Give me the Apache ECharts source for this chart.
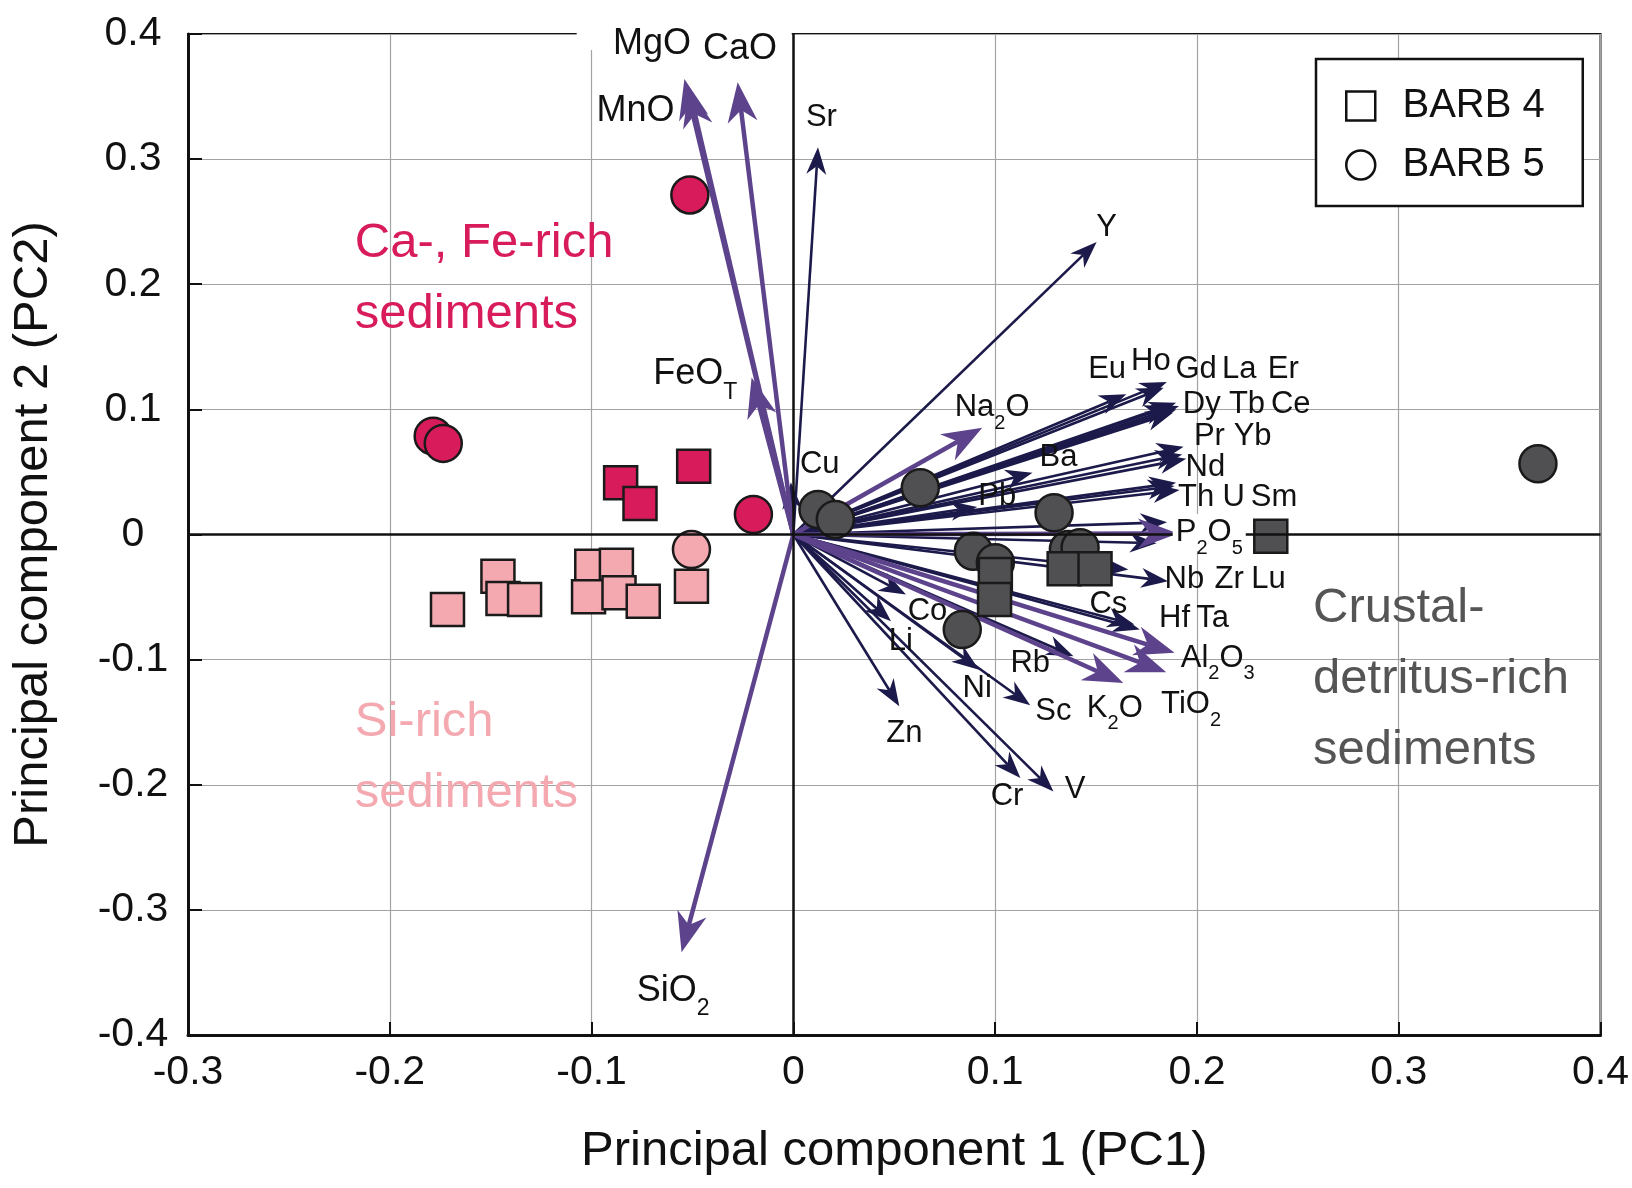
<!DOCTYPE html>
<html>
<head>
<meta charset="utf-8">
<script src="https://cdn.jsdelivr.net/npm/echarts@6/dist/echarts.min.js"></script>
<style>html,body{margin:0;padding:0;background:#fff}#chart{width:1632px;height:1188px}</style>
</head>
<body>
<div id="chart"></div>
<script>
// ---------- tick labels ----------
const xTickLabels = ['-0.3', '-0.2', '-0.1', '0', '0.1', '0.2', '0.3', '0.4'];
const yTickLabels = ['-0.4', '-0.3', '-0.2', '-0.1', '0', '0.1', '0.2', '0.3', '0.4'];

// ---------- loading vectors (arrow tips) ----------
const oxideNames = ['MgO', 'MnO', 'CaO', 'FeOT', 'SiO2', 'Na2O', 'P2O5', 'Al2O3', 'TiO2', 'K2O'];
const oxidePC1 = [-0.0540, -0.0519, -0.0276, -0.0207, -0.0554, 0.0936, 0.1906, 0.1889, 0.1848, 0.1635];
const oxidePC2 = [0.3640, 0.3576, 0.3614, 0.1254, -0.3338, 0.0854, 0.0008, -0.0946, -0.1100, -0.1187];

const traceNames = ['Sr', 'Y', 'Cu', 'Eu', 'Ho', 'Gd', 'La', 'Er', 'Dy', 'Tb', 'Ce', 'Pr', 'Yb', 'Nd',
  'Th', 'U', 'Sm', 'Ba', 'Pb', 'Nb', 'Zr', 'Lu', 'Hf', 'Ta', 'Cs', 'Rb', 'Sc', 'Ni', 'Co', 'Li', 'Zn', 'Cr', 'V'];
const tracePC1 = [0.0122, 0.1503, -0.0012, 0.1650, 0.1851, 0.1835, 0.1897, 0.1911, 0.1897, 0.1881, 0.1873, 0.1934, 0.1927, 0.1947,
  0.1897, 0.1889, 0.1914, 0.1185, 0.0911, 0.1857, 0.1852, 0.1800, 0.1660, 0.1717, 0.1690, 0.1388, 0.1174, 0.0920, 0.0558, 0.0484, 0.0525, 0.1125, 0.1289];
const tracePC2 = [0.3094, 0.2338, 0.0418, 0.1120, 0.1219, 0.1173, 0.1053, 0.1027, 0.1000, 0.0973, 0.1027, 0.0701, 0.0640, 0.0605,
  0.0413, 0.0387, 0.0355, 0.0494, 0.0220, -0.0373, 0.0098, -0.0070, -0.0280, -0.0760, -0.0720, -0.0973, -0.1365, -0.1080, -0.0480, -0.0693, -0.1373, -0.1947, -0.2053];

// ---------- sample scores ----------
const barb4CaFe = [[-0.0856, 0.0414], [-0.0760, 0.0248], [-0.0494, 0.0546]];
const barb4Si = [[-0.1714, -0.0600], [-0.1464, -0.0334], [-0.1439, -0.0512], [-0.1332, -0.0520], [-0.0999, -0.0254],
  [-0.0877, -0.0246], [-0.1015, -0.0498], [-0.0864, -0.0466], [-0.0744, -0.0534], [-0.0505, -0.0414]];
const barb4Crust = [[0.1001, -0.0320], [0.0997, -0.0520], [0.1342, -0.0274], [0.1495, -0.0274], [0.2366, -0.0014]];
const barb5CaFe = [[-0.0513, 0.2714], [-0.1785, 0.0786], [-0.1735, 0.0728], [-0.0198, 0.0160]];
const barb5Si = [[-0.0505, -0.0120]];
const barb5Crust = [[0.0122, 0.0200], [0.0208, 0.0120], [0.0629, 0.0374], [0.1292, 0.0174], [0.0892, -0.0134],
  [0.1001, -0.0226], [0.1363, -0.0120], [0.1421, -0.0106], [0.0837, -0.0760], [0.3690, 0.0566]];

// ---------- vector label anchors ----------
const vecLabelText = ['MgO', 'CaO', 'MnO', 'FeO{t|T}', 'SiO{b|2}', 'Sr', 'Y', 'Cu', 'Na{s|2}O', 'Ba', 'Pb',
  'Eu', 'Ho', 'Gd', 'La', 'Er', 'Dy', 'Tb', 'Ce', 'Pr', 'Yb', 'Nd', 'Th', 'U', 'Sm', 'P{s|2}O{s|5}',
  'Nb', 'Zr', 'Lu', 'Cs', 'Hf', 'Ta', 'Al{s|2}O{s|3}', 'TiO{s|2}', 'K{s|2}O', 'Rb', 'Sc', 'Ni', 'Co', 'Li', 'Zn', 'Cr', 'V'];
const vecLabelPC1 = [-0.0700, -0.0264, -0.0782, -0.0486, -0.0596, 0.0139, 0.1552, 0.0131, 0.0985, 0.1314, 0.1010,
  0.1555, 0.1772, 0.1996, 0.2210, 0.2428, 0.2024, 0.2248, 0.2465, 0.2062, 0.2276, 0.2042, 0.1996, 0.2182, 0.2382, 0.2061,
  0.1938, 0.2160, 0.2355, 0.1561, 0.1889, 0.2078, 0.2103, 0.1971, 0.1593, 0.1174, 0.1289, 0.0911, 0.0665, 0.0533, 0.0550, 0.1059, 0.1396];
const vecLabelPC2 = [0.3920, 0.3880, 0.3386, 0.1280, -0.3646, 0.3333, 0.2453, 0.0560, 0.1013, 0.0613, 0.0306,
  0.1320, 0.1386, 0.1320, 0.1320, 0.1320, 0.1040, 0.1040, 0.1040, 0.0786, 0.0786, 0.0533, 0.0293, 0.0293, 0.0293, 0.0016,
  -0.0360, -0.0360, -0.0360, -0.0560, -0.0667, -0.0667, -0.0987, -0.1360, -0.1387, -0.1027, -0.1413, -0.1227, -0.0613, -0.0853, -0.1587, -0.2093, -0.2040];
const bigLabels = ['MgO', 'CaO', 'MnO', 'FeO{t|T}', 'SiO{b|2}'];

// ---------- group annotations ----------
const groupText = ['Ca-, Fe-rich\nsediments', 'Si-rich\nsediments', 'Crustal-\ndetritus-rich\nsediments'];
const groupPC1 = [-0.2176, -0.2176, 0.2573];
const groupPC2 = [0.2040, -0.1784, -0.1160];

// ---------- styles ----------
const FONT = "'Liberation Sans', Arial, Helvetica, sans-serif";
const PURPLE = '#5d438c';
const NAVY = '#1c1a4a';
const CRIMSON = '#d81b5b';
const PINK = '#f4a8b0';
const GREY = '#505052';
const EDGE = '#1a1a1a';

function arrowRenderer(color, width, headLen, headW) {
  return function (params, api) {
    const o = api.coord([0, 0]);
    const t = api.coord([api.value(0), api.value(1)]);
    const dx = t[0] - o[0], dy = t[1] - o[1];
    const L = Math.sqrt(dx * dx + dy * dy) || 1;
    const ux = dx / L, uy = dy / L, nx = -uy, ny = ux;
    const bx = t[0] - ux * headLen, by = t[1] - uy * headLen;
    const nk = [t[0] - ux * headLen * 0.7, t[1] - uy * headLen * 0.7];
    return {
      type: 'group',
      children: [
        { type: 'line', shape: { x1: o[0], y1: o[1], x2: nk[0], y2: nk[1] }, style: { stroke: color, lineWidth: width } },
        { type: 'polygon', shape: { points: [t, [bx + nx * headW / 2, by + ny * headW / 2], nk, [bx - nx * headW / 2, by - ny * headW / 2]] }, style: { fill: color } }
      ]
    };
  };
}

const traceData = traceNames.map((n, i) => ({ name: n, value: [tracePC1[i], tracePC2[i]] }));
const oxideData = oxideNames.map((n, i) => ({ name: n, value: [oxidePC1[i], oxidePC2[i]] }));

const vecLabelData = vecLabelText.map((t, i) => {
  const big = bigLabels.indexOf(t) >= 0;
  const item = { name: t, value: [vecLabelPC1[i], vecLabelPC2[i]] };
  if (big) item.label = { fontSize: 36, lineHeight: 42 };
  if (t.indexOf('P{s|2}') === 0) item.label = { backgroundColor: '#fff', padding: [0, 3, 0, 3] };
  return item;
});

const groupColors = [CRIMSON, PINK, '#555555'];
const groupData = groupText.map((t, i) => ({
  name: t, value: [groupPC1[i], groupPC2[i]],
  label: { color: groupColors[i] }
}));

function pointSeries(name, symbol, size, color, data, z) {
  return {
    type: 'scatter', name: name, symbol: symbol, symbolSize: size, z: z, data: data,
    itemStyle: { color: color, borderColor: EDGE, borderWidth: 2.5, opacity: 1 },
    emphasis: { disabled: true }, animation: false
  };
}

const option = {
  animation: false,
  textStyle: { fontFamily: FONT },
  grid: { left: 188, top: 34, width: 1416, height: 1001, show: true, borderColor: '#111', borderWidth: 2, backgroundColor: 'transparent' },
  legend: {
    orient: 'vertical', left: 1316, top: 59,
    padding: [24, 38, 18, 29], itemGap: 13, itemWidth: 29, itemHeight: 29,
    borderColor: '#111', borderWidth: 2.5, backgroundColor: '#fff',
    formatter: '  {name}',
    textStyle: { fontSize: 40, color: '#111', fontFamily: FONT, lineHeight: 46 },
    selectedMode: false,
    data: [
      { name: 'BARB 4', icon: 'rect', itemStyle: { color: '#fff', borderColor: '#111', borderWidth: 2.5 } },
      { name: 'BARB 5', icon: 'circle', itemStyle: { color: '#fff', borderColor: '#111', borderWidth: 2.5 } }
    ],
    z: 10
  },
  xAxis: {
    type: 'value', min: -0.3, max: 0.4, interval: 0.1,
    name: 'Principal component 1 (PC1)', nameLocation: 'middle', nameGap: 92,
    nameTextStyle: { fontSize: 49, color: '#111', fontFamily: FONT },
    axisLine: { onZero: false, lineStyle: { color: '#111', width: 3 } },
    axisTick: { inside: true, length: 13, lineStyle: { color: '#111', width: 2 } },
    axisLabel: { fontSize: 41, color: '#111', margin: 17, fontFamily: FONT,
      formatter: v => xTickLabels[Math.round((v + 0.3) * 10)] },
    splitLine: { show: true, lineStyle: { color: '#a3a3a3', width: 1.2 } }
  },
  yAxis: {
    type: 'value', min: -0.4, max: 0.4, interval: 0.1,
    name: 'Principal component 2 (PC2)', nameLocation: 'middle', nameGap: 130,
    nameTextStyle: { fontSize: 49, color: '#111', fontFamily: FONT },
    axisLine: { onZero: false, lineStyle: { color: '#111', width: 3 } },
    axisTick: { inside: true, length: 14, lineStyle: { color: '#111', width: 2 } },
    axisLabel: { fontSize: 41, color: '#111', margin: 55, align: 'center', fontFamily: FONT,
      formatter: v => yTickLabels[Math.round((v + 0.4) * 10)] },
    splitLine: { show: true, lineStyle: { color: '#a3a3a3', width: 1.2 } }
  },
  series: [
    {
      type: 'scatter', name: 'zero', data: [[0, 0]], symbolSize: 0, z: 1, silent: true,
      markLine: {
        silent: true, symbol: ['none', 'none'], label: { show: false }, animation: false,
        lineStyle: { color: '#111', width: 2.5, type: 'solid' },
        data: [{ xAxis: 0 }, { yAxis: 0 }]
      }
    },
    { type: 'custom', name: 'trace', coordinateSystem: 'cartesian2d', z: 2, clip: false, silent: true,
      encode: { x: 0, y: 1 }, data: traceData, renderItem: arrowRenderer(NAVY, 2.6, 27, 20) },
    { type: 'custom', name: 'oxide', coordinateSystem: 'cartesian2d', z: 2, clip: false, silent: true,
      encode: { x: 0, y: 1 }, data: oxideData, renderItem: arrowRenderer(PURPLE, 4.5, 40, 30) },
    pointSeries('BARB 5', 'circle', 37, CRIMSON, barb5CaFe, 3),
    pointSeries('BARB 5', 'circle', 37, PINK, barb5Si, 3),
    pointSeries('BARB 5', 'circle', 37, GREY, barb5Crust, 3),
    pointSeries('BARB 4', 'rect', 33, CRIMSON, barb4CaFe, 4),
    pointSeries('BARB 4', 'rect', 33, PINK, barb4Si, 4),
    pointSeries('BARB 4', 'rect', 33, GREY, barb4Crust, 4),
    {
      type: 'scatter', name: 'gap', z: 4, clip: false, silent: true, symbolSize: 1,
      itemStyle: { color: 'transparent', opacity: 1 },
      data: [[-0.0541, 0.404]],
      label: { show: true, position: 'inside', formatter: ' ', backgroundColor: '#fff', width: 215, height: 42, opacity: 1 }
    },
    {
      type: 'scatter', name: 'vecLabels', z: 6, clip: false, silent: true, symbolSize: 1,
      itemStyle: { color: 'transparent', opacity: 1 },
      data: vecLabelData,
      label: {
        show: true, position: 'inside', formatter: p => p.name, opacity: 1,
        fontSize: 31, lineHeight: 37, color: '#111', fontFamily: FONT,
        rich: {
          s: { fontSize: 20, height: 6, verticalAlign: 'bottom', color: '#111', fontFamily: FONT },
          t: { fontSize: 23, height: 6, verticalAlign: 'bottom', color: '#111', fontFamily: FONT },
          b: { fontSize: 23, height: 6, verticalAlign: 'bottom', color: '#111', fontFamily: FONT }
        }
      }
    },
    {
      type: 'scatter', name: 'groups', z: 6, clip: false, silent: true, symbolSize: 1,
      itemStyle: { color: 'transparent', opacity: 1 },
      data: groupData,
      label: {
        show: true, position: 'right', distance: 0, align: 'left', verticalAlign: 'middle', opacity: 1,
        formatter: p => p.name, fontSize: 49, lineHeight: 71, fontFamily: FONT
      }
    }
  ]
};

const chart = echarts.init(document.getElementById('chart'), null, { renderer: 'canvas' });
chart.setOption(option);
</script>
</body>
</html>
